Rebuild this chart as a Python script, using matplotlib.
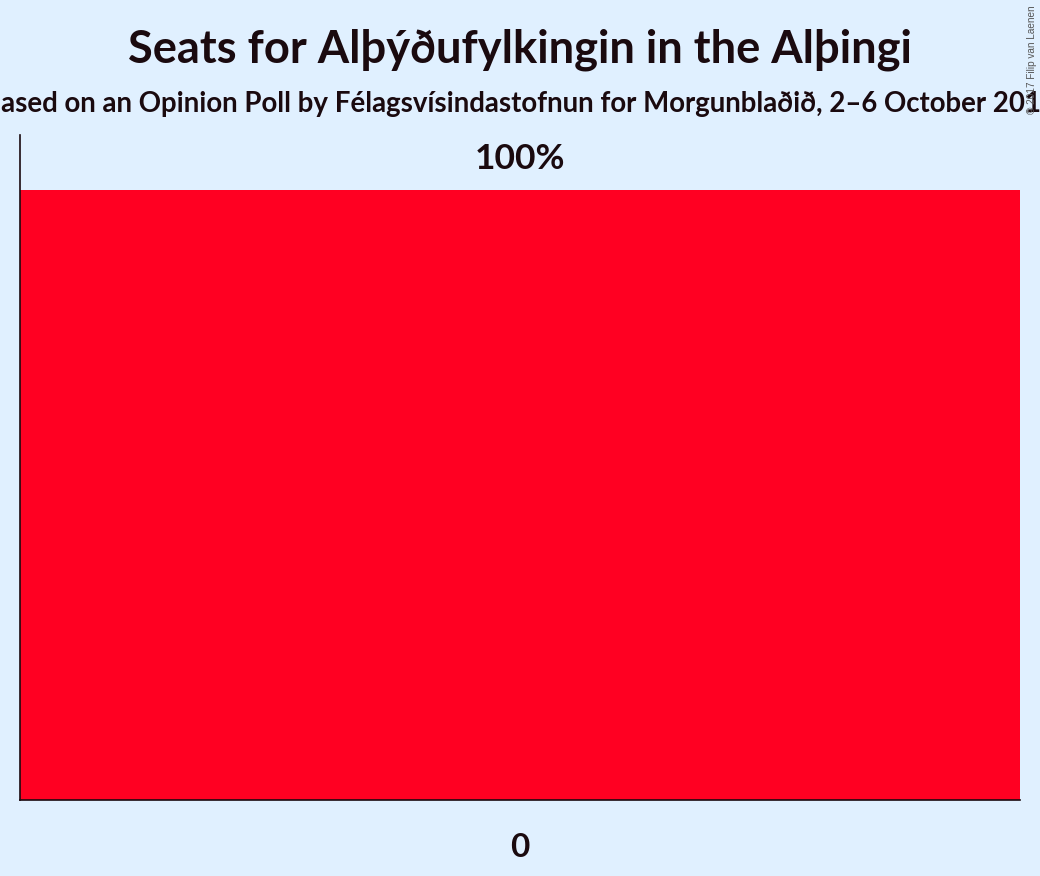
import matplotlib.pyplot as plt

# seats outcome and its probability
seats = ["0"]
probability = [100]

bg = "#e0f0ff"
bar_colour = "#ff0022"
ink = "#1a0a0f"

plt.rcParams['font.family'] = ['Lato', 'DejaVu Sans']

fig = plt.figure(figsize=(10.4, 8.76), dpi=100, facecolor=bg)
ax = fig.add_axes([20 / 1040, 76 / 876, 1000 / 1040, 665 / 876])
ax.set_facecolor(bg)

x = list(range(len(seats)))
bars = ax.bar(x, probability, width=1.0, color=bar_colour, edgecolor="none")
for b, p in zip(bars, probability):
    ax.text(b.get_x() + b.get_width() / 2, p + 2.4, f"{p}%", ha="center", va="bottom",
            fontsize=25.5, fontweight="bold", color=ink)

ax.set_xlim(-0.5, len(seats) - 0.5)
ax.set_ylim(0, 109)
ax.set_xticks(x)
ax.set_xticklabels(seats, fontsize=24, fontweight="bold", color=ink)
ax.tick_params(axis="x", length=0, pad=24)
ax.set_yticks([])
for s in ["top", "right"]:
    ax.spines[s].set_visible(False)
for s in ["left", "bottom"]:
    ax.spines[s].set_color(ink)
    ax.spines[s].set_linewidth(1.2)

fig.text(0.5, 1 - 50 / 876, "Seats for Alþýðufylkingin in the Alþingi", ha="center", va="center",
         fontsize=32.6, fontweight="bold", color=ink)
fig.text(0.5, 1 - 104 / 876,
         "Based on an Opinion Poll by Félagsvísindastofnun for Morgunblaðið, 2–6 October 2017",
         ha="center", va="center", fontsize=19.9, fontweight="bold", color=ink)
fig.text(1032 / 1040, 1 - 5 / 876, "© 2017 Filip van Laenen", rotation=90, ha="center", va="top",
         fontsize=7.2, color="#555555", family=['Liberation Sans', 'DejaVu Sans'])

fig.savefig("out.png", dpi=100, facecolor=bg)
